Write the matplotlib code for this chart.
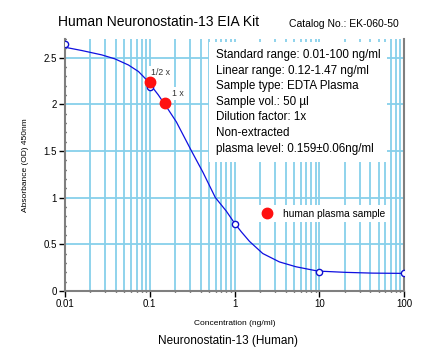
import matplotlib.pyplot as plt
from matplotlib.ticker import FixedLocator, LogLocator, NullFormatter, MultipleLocator

plt.rcParams['font.family'] = ['Liberation Sans', 'DejaVu Sans']

# standard points
std_conc = [0.01, 0.1, 1, 10, 100]
std_od = [2.64, 2.185, 0.72, 0.205, 0.187]

# fitted curve
curve_conc = [0.01, 0.0158, 0.0272, 0.039, 0.056, 0.0736, 0.092, 0.126, 0.166,
              0.206, 0.31, 0.424, 0.593, 0.798, 1.0, 1.2, 1.5, 2.15, 3.38,
              5.3, 9.55, 20.6, 42.4, 100]
curve_od = [2.61, 2.575, 2.528, 2.485, 2.42, 2.35, 2.26, 2.10, 1.94,
            1.81, 1.50, 1.27, 1.0, 0.855, 0.725, 0.633, 0.53, 0.40, 0.31,
            0.258, 0.212, 0.198, 0.19, 0.187]

# human plasma samples
sample_conc = [0.1, 0.15]
sample_od = [2.24, 2.014]
sample_labels = ['1/2 x', '1 x']

info_lines = [
    'Standard range: 0.01-100 ng/ml',
    'Linear range: 0.12-1.47 ng/ml',
    'Sample type: EDTA Plasma',
    'Sample vol.: 50 \u00b5l',
    'Dilution factor: 1x',
    'Non-extracted',
    'plasma level: 0.159\u00b10.06ng/ml',
]

fig = plt.figure(figsize=(4.3, 3.5), dpi=100)
ax = fig.add_axes([0.151, 0.169, 0.789, 0.72])

ax.plot(curve_conc, curve_od, color='#1010e0', lw=0.9, zorder=3)
ax.plot(std_conc, std_od, 'o', ms=4.5, mfc='white', mec='#1010d0', mew=1.0, zorder=4)
ax.plot(sample_conc, sample_od, 'o', ms=7.5, color='#ff1010', zorder=5,
        label='human plasma sample')

ax.text(0.104, 2.31, sample_labels[0], fontsize=6.3, color='#333333', zorder=2,
        bbox=dict(facecolor='white', edgecolor='none', pad=1.5))
ax.text(0.185, 2.085, sample_labels[1], fontsize=6.3, color='#333333', zorder=2,
        bbox=dict(facecolor='white', edgecolor='none', pad=1.5))

ax.set_xscale('log')
ax.set_xlim(0.01, 100)
ax.set_ylim(0, 2.7)
ax.xaxis.set_major_locator(FixedLocator([0.01, 0.1, 1, 10, 100]))
ax.set_xticklabels(['0.01', '0.1', '1', '10', '100'])
ax.xaxis.set_minor_locator(LogLocator(base=10, subs=range(2, 10)))
ax.xaxis.set_minor_formatter(NullFormatter())
ax.yaxis.set_major_locator(FixedLocator([0, 0.5, 1, 1.5, 2, 2.5]))
ax.set_yticklabels(['0', '0.5', '1', '1.5', '2', '2.5'])
ax.yaxis.set_minor_locator(MultipleLocator(0.1))

ax.grid(True, which='both', axis='x', color='#87d0ea', lw=1.3, zorder=0)
ax.grid(True, which='major', axis='y', color='#87d0ea', lw=1.3, zorder=0)
ax.set_axisbelow(True)

ax.tick_params(axis='both', which='major', labelsize=7, length=4, width=1, color='black', pad=2)
ax.tick_params(axis='both', which='minor', length=2, width=1, color='black', direction='inout')

for s in ['left', 'bottom', 'right']:
    ax.spines[s].set_color('#7f7f7f')
    ax.spines[s].set_linewidth(1.5)
ax.spines['top'].set_visible(False)

ax.text(0.4445, 0.96, '\n'.join(info_lines), transform=ax.transAxes,
        fontsize=8.4, va='top', ha='left', linespacing=1.4, zorder=6,
        bbox=dict(facecolor='white', edgecolor='none', pad=5))

ax.legend(loc='upper left', bbox_to_anchor=(0.54, 0.36), fontsize=7.3,
          frameon=True, facecolor='white', edgecolor='none', framealpha=1,
          fancybox=False, handletextpad=0.6, borderpad=0.35, numpoints=1)

ax.set_xlabel('Concentration (ng/ml)', fontsize=6, labelpad=8)
ax.set_ylabel('Absorbance (OD) 450nm', fontsize=6, labelpad=10)

fig.text(0.135, 0.937, 'Human Neuronostatin-13 EIA Kit', fontsize=10, va='center')
fig.text(0.672, 0.931, 'Catalog No.: EK-060-50', fontsize=7.5, va='center')
fig.text(0.53, 0.026, 'Neuronostatin-13 (Human)', fontsize=8.5, ha='center', va='center')

fig.savefig('out.png', dpi=100)
